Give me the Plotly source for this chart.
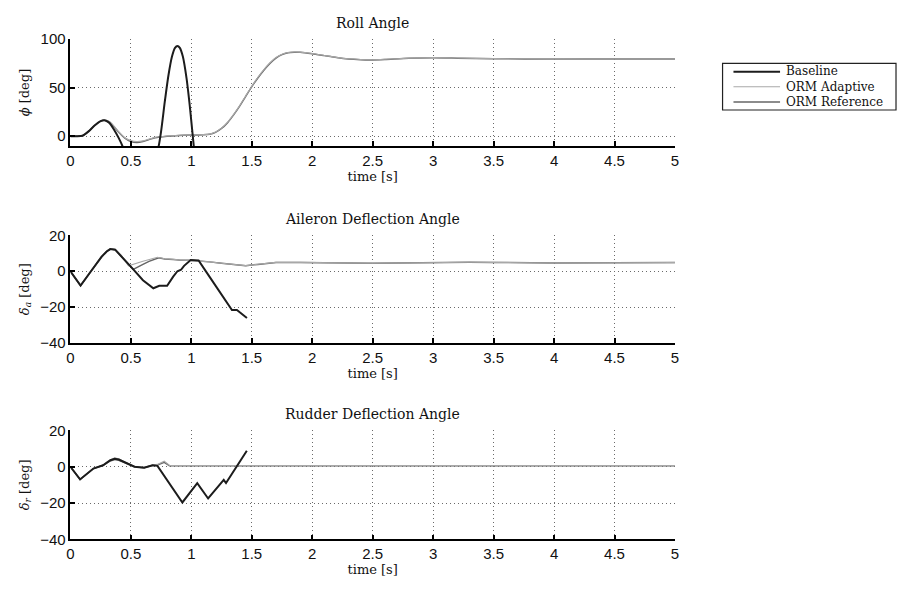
import plotly.graph_objects as go

# ---------------- data ----------------
# Roll angle phi [deg]
roll_t_orm = [0, 0.05, 0.1, 0.15, 0.2, 0.25, 0.28, 0.32, 0.36, 0.4, 0.45, 0.5, 0.55, 0.6, 0.65,
              0.7, 0.8, 0.9, 1.0, 1.1, 1.15, 1.2, 1.25, 1.3, 1.35, 1.4, 1.45, 1.5, 1.55, 1.6,
              1.65, 1.7, 1.75, 1.8, 1.85, 1.9, 2.0, 2.1, 2.2, 2.3, 2.4, 2.5, 2.6, 2.8, 3.0,
              3.2, 3.5, 4.0, 4.5, 5.0]
roll_ref = [0, 0, 0.5, 5, 11, 15.5, 16.5, 15, 10, 4, -2, -5.5, -6.5, -5.5, -3.5,
            -1.5, 0, 0.8, 1.2, 1.5, 2, 4, 8, 14, 22, 31, 41, 51, 60, 68,
            75, 80.5, 84, 86, 86.5, 86.5, 85, 83, 81, 79.5, 78.8, 78.6, 79.0, 80.3, 80.8,
            80.4, 79.8, 79.5, 79.5, 79.5]
roll_adp = [0, 0, 0.5, 5, 11, 15.8, 16.8, 15.2, 10.5, 4.5, -1.5, -4.5, -5.5, -4.8, -3,
            -1.2, 0.2, 1.0, 1.4, 1.7, 2.2, 4.3, 8.4, 14.5, 22.5, 31.5, 41.5, 51.5, 60.5, 68.5,
            75.5, 81, 84.5, 86.3, 86.8, 86.6, 85.2, 83.2, 81.2, 79.7, 79.0, 78.8, 79.2, 80.4, 80.9,
            80.5, 79.9, 79.6, 79.5, 79.5]
roll_t_base = [0, 0.05, 0.1, 0.15, 0.2, 0.25, 0.28, 0.32, 0.36, 0.4, 0.43, 0.47, 0.52, 0.58,
               0.64, 0.69, 0.73, 0.75, 0.78, 0.81, 0.84, 0.865, 0.885, 0.905, 0.93, 0.96,
               0.99, 1.02, 1.05, 1.1]
roll_base = [0, 0, 0.5, 5, 11, 15.5, 16.5, 14, 7, -2, -10, -25, -38, -44,
             -38, -24, -10, 5, 35, 62, 82, 91, 93, 91, 82, 60,
             28, -10, -45, -90]

# Aileron deflection delta_a [deg]
ail_t_orm = [0, 0.084, 0.17, 0.257, 0.3, 0.33, 0.37, 0.42, 0.47, 0.52, 0.6, 0.65, 0.73, 0.78,
             0.85, 0.9, 1.0, 1.06, 1.15, 1.25, 1.35, 1.45, 1.55, 1.7, 1.9, 2.1, 2.3, 2.5,
             2.7, 3.0, 3.3, 3.5, 3.8, 4.0, 4.5, 5.0]
ail_ref = [0, -8, 0, 8, 11, 12.3, 12, 8.5, 4.5, 1, 3.8, 5.5, 7.5, 6.8,
           6.5, 6.2, 6.1, 5.9, 5.2, 4.4, 3.5, 3.0, 3.8, 4.9, 4.9, 4.6, 4.3, 4.4,
           4.6, 4.9, 5.0, 4.9, 4.7, 4.6, 4.7, 4.8]
ail_t_adp = [0, 0.084, 0.17, 0.257, 0.3, 0.33, 0.37, 0.42, 0.48, 0.6, 0.72, 0.78,
             0.85, 0.9, 1.0, 1.06, 1.15, 1.25, 1.35, 1.45, 1.55, 1.7, 1.9, 2.1, 2.3, 2.5,
             2.7, 3.0, 3.3, 3.5, 3.8, 4.0, 4.5, 5.0]
ail_adp = [0, -8, 0, 8, 11.3, 12.6, 12.2, 9, 3, 5.5, 7.8, 6.9,
           6.6, 6.3, 6.1, 5.9, 5.2, 4.4, 3.6, 3.1, 3.9, 4.9, 4.9, 4.6, 4.3, 4.4,
           4.6, 4.9, 5.0, 4.9, 4.7, 4.6, 4.7, 4.8]
ail_t_base = [0, 0.084, 0.17, 0.257, 0.3, 0.33, 0.37, 0.42, 0.47, 0.52, 0.6, 0.686, 0.735,
              0.80, 0.85, 0.885, 0.915, 0.94, 0.995, 1.06, 1.15, 1.25, 1.336, 1.377, 1.46]
ail_base = [0, -8, 0, 8, 11, 12.3, 12, 8.5, 4.5, 1, -5, -9.5, -8.1,
            -8.1, -3, 0, 0.8, 3, 6.2, 6.0, -3, -13, -21.6, -21.6, -26]

# Rudder deflection delta_r [deg]
rud_t_orm = [0, 0.08, 0.19, 0.27, 0.33, 0.366, 0.4, 0.45, 0.53, 0.61, 0.68, 0.72, 0.776, 0.82,
             0.9, 1.0, 1.5, 2.0, 2.5, 3.0, 3.5, 4.0, 4.5, 5.0]
rud_ref = [0, -7, -1, 0.8, 3.2, 4.0, 3.6, 2.2, 0, -0.5, 0.8, 1.0, 2.4, 0.5,
           0.5, 0.5, 0.6, 0.5, 0.5, 0.5, 0.5, 0.5, 0.5, 0.5]
rud_adp = [0, -7, -1, 0.8, 3.8, 4.9, 4.4, 2.6, 0.2, -0.3, 1.0, 1.3, 3.1, 0.7,
           0.6, 0.6, 0.7, 0.6, 0.6, 0.6, 0.6, 0.6, 0.6, 0.6]
rud_t_base = [0, 0.08, 0.19, 0.27, 0.33, 0.366, 0.4, 0.45, 0.53, 0.61, 0.68, 0.72, 0.926,
              1.049, 1.139, 1.268, 1.287, 1.459]
rud_base = [0, -7, -1, 0.8, 3.6, 4.4, 4.0, 2.6, 0, -0.5, 0.8, 0.5, -19.7,
            -9, -17.5, -7.2, -9, 8.8]

series_names = ["Baseline", "ORM Adaptive", "ORM Reference"]
panel_titles = ["Roll Angle", "Aileron Deflection Angle", "Rudder Deflection Angle"]
y_titles = ["<i>ϕ</i> [deg]", "<i>δ<sub>a</sub></i> [deg]", "<i>δ<sub>r</sub></i> [deg]"]
x_ticks = [0, 0.5, 1, 1.5, 2, 2.5, 3, 3.5, 4, 4.5, 5]
y_ticks = [[0, 50, 100], [-40, -20, 0, 20], [-40, -20, 0, 20]]
y_ranges = [[-10, 100], [-40, 20], [-40, 20]]

# ---------------- styling ----------------
W, H = 901, 590
SERIF = "DejaVu Serif"
SANS = "Liberation Sans"
c_base, c_adp, c_ref = "#1c1c1c", "#a8a8a8", "#666666"
w_base, w_adp, w_ref = 2.0, 1.1, 1.5
GRID = dict(showgrid=True, gridcolor="#6a6a6a", griddash="1px,3px", gridwidth=1)

x_left, x_right = 67, 677
panel_px = [(31, 141), (233, 344), (434, 546)]  # (top, bottom) pixel rows


def px_x(p):
    return p / W


def px_y(p):
    return 1 - p / H


fig = go.Figure()

panels = [
    (roll_t_base, roll_base, roll_t_orm, roll_adp, roll_t_orm, roll_ref, "spline"),
    (ail_t_base, ail_base, ail_t_adp, ail_adp, ail_t_orm, ail_ref, "linear"),
    (rud_t_base, rud_base, rud_t_orm, rud_adp, rud_t_orm, rud_ref, "linear"),
]

for i, (tb, vb, ta, va, tr, vr, shape) in enumerate(panels):
    xa = "x" if i == 0 else f"x{i + 1}"
    ya = "y" if i == 0 else f"y{i + 1}"
    fig.add_trace(go.Scatter(x=tr, y=vr, mode="lines", name=series_names[2], xaxis=xa, yaxis=ya,
                             line=dict(color=c_ref, width=w_ref, shape=shape, smoothing=0.6),
                             showlegend=False))
    fig.add_trace(go.Scatter(x=ta, y=va, mode="lines", name=series_names[1], xaxis=xa, yaxis=ya,
                             line=dict(color=c_adp, width=w_adp, shape=shape, smoothing=0.6),
                             showlegend=False))
    fig.add_trace(go.Scatter(x=tb, y=vb, mode="lines", name=series_names[0], xaxis=xa, yaxis=ya,
                             line=dict(color=c_base, width=w_base, shape=shape, smoothing=0.6),
                             showlegend=False))

layout = dict(
    width=W, height=H,
    margin=dict(l=0, r=0, t=0, b=0),
    paper_bgcolor="white", plot_bgcolor="white",
    showlegend=False,
)

annotations = []
shapes = []

for i in range(3):
    top, bot = panel_px[i]
    xkey = "xaxis" if i == 0 else f"xaxis{i + 1}"
    ykey = "yaxis" if i == 0 else f"yaxis{i + 1}"
    ya = "y" if i == 0 else f"y{i + 1}"
    xa = "x" if i == 0 else f"x{i + 1}"
    layout[xkey] = dict(
        domain=[px_x(x_left), px_x(x_right)], range=[0, 5], anchor=ya,
        tickvals=x_ticks, ticktext=[f"{v:g}" for v in x_ticks],
        ticks="inside", ticklen=5, tickwidth=1.5, tickcolor="black",
        showline=True, linecolor="black", linewidth=1.5,
        zeroline=False, tickfont=dict(family=SANS, size=15, color="#111"),
        title=dict(text="time [s]", font=dict(family=SERIF, size=13, color="#111"), standoff=4),
        **GRID,
    )
    layout[ykey] = dict(
        domain=[px_y(bot), px_y(top)], range=y_ranges[i], anchor=xa,
        tickvals=y_ticks[i], ticks="inside", ticklen=5, tickwidth=1.5, tickcolor="black",
        showline=True, linecolor="black", linewidth=1.5,
        zeroline=False, tickfont=dict(family=SANS, size=15, color="#111"),
        title=dict(text=y_titles[i], font=dict(family=SERIF, size=13, color="#111"), standoff=8),
        **GRID,
    )
    # panel title
    annotations.append(dict(
        text=panel_titles[i], x=px_x((x_left + x_right) / 2), y=px_y(top - 17),
        xref="paper", yref="paper", xanchor="center", yanchor="middle", showarrow=False,
        font=dict(family=SERIF, size=14, color="#111"),
    ))

# legend box drawn in paper space
leg_l, leg_r, leg_t, leg_b = 725, 900, 56, 104
shapes.append(dict(type="rect", xref="paper", yref="paper",
                   x0=px_x(leg_l), x1=px_x(leg_r), y0=px_y(leg_b), y1=px_y(leg_t),
                   line=dict(color="#222", width=1.2), fillcolor="white", layer="above"))
LEG_FONT = 12
row_gap = LEG_FONT * 1.3
leg_rows = [64.5 + k * row_gap for k in range(3)]
leg_styles = [(c_base, w_base), (c_adp, w_adp), (c_ref, w_ref)]
for row, (col, wid) in zip(leg_rows, leg_styles):
    shapes.append(dict(type="line", xref="paper", yref="paper",
                       x0=px_x(736), x1=px_x(783), y0=px_y(row), y1=px_y(row),
                       line=dict(color=col, width=wid), layer="above"))
annotations.append(dict(text="<br>".join(series_names), x=px_x(787),
                        y=px_y((leg_rows[0] + leg_rows[-1]) / 2),
                        xref="paper", yref="paper", xanchor="left", yanchor="middle",
                        align="left", showarrow=False,
                        font=dict(family=SERIF, size=LEG_FONT, color="#111")))

layout["annotations"] = annotations
layout["shapes"] = shapes
fig.update_layout(**layout)

fig.write_html("out.html")
